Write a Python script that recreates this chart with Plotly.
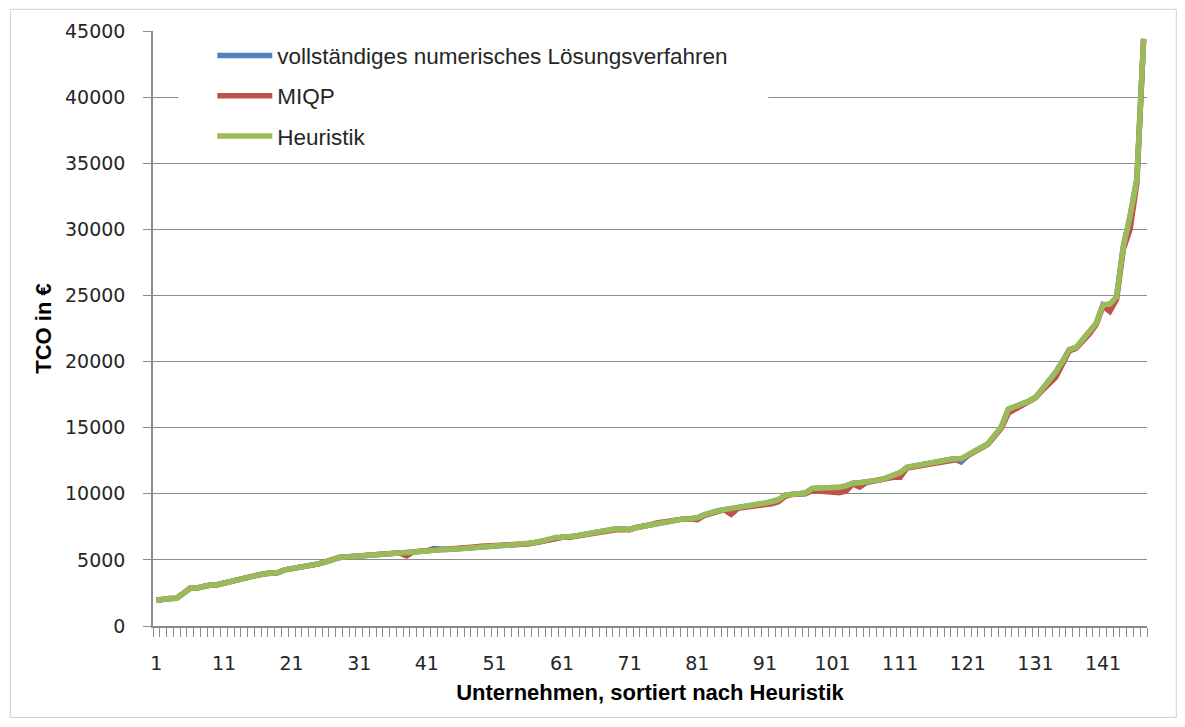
import plotly.graph_objects as go

heuristik = [
    1950, 2050, 2080, 2100, 2500, 2850, 2880, 3000, 3100, 3120,
    3250, 3400, 3550, 3650, 3750, 3850, 3950, 4000, 4050, 4250,
    4330, 4370, 4450, 4580, 4700, 4850, 5000, 5180, 5220, 5250,
    5280, 5320, 5350, 5400, 5420, 5480, 5530, 5560, 5600, 5650,
    5680, 5720, 5780, 5790, 5820, 5850, 5900, 5980, 6030, 6050,
    6070, 6090, 6100, 6130, 6160, 6220, 6320, 6420, 6550, 6700,
    6710, 6720, 6800, 6900, 6980, 7080, 7200, 7270, 7350, 7330,
    7300, 7450, 7550, 7680, 7800, 7880, 7970, 8050, 8100, 8120,
    8180, 8400, 8580, 8700, 8800, 8870, 8950, 9030, 9100, 9200,
    9290, 9400, 9550, 9900, 9980, 10000, 10060, 10400, 10420, 10380,
    10420, 10500, 10600, 10800, 10830, 10880, 10950, 11050, 11200, 11350,
    11600, 12000, 12100, 12200, 12300, 12350, 12500, 12600, 12650, 12650,
    12900, 13200, 13500, 13800, 14400, 15100, 16400, 16650, 16800, 17000,
    17300, 17900, 18500, 19200, 20000, 20900, 21050, 21700, 22300, 22900,
    24300, 24350, 24900, 28700, 31000, 33800, 44400,
]

miqp = [
    1950, 2050, 2080, 2100, 2500, 2850, 2880, 3000, 3100, 3120,
    3250, 3400, 3550, 3650, 3750, 3850, 3950, 4000, 4050, 4250,
    4330, 4370, 4450, 4580, 4700, 4850, 5000, 5180, 5220, 5250,
    5280, 5320, 5350, 5400, 5420, 5480, 5530, 5300, 5600, 5650,
    5680, 5720, 5780, 5790, 5820, 5850, 5900, 5980, 6030, 6050,
    6070, 6090, 6100, 6130, 6160, 6220, 6300, 6400, 6500, 6680,
    6710, 6720, 6800, 6900, 6980, 7080, 7180, 7220, 7280, 7300,
    7280, 7450, 7500, 7650, 7800, 7880, 7970, 8050, 8100, 8100,
    8050, 8350, 8550, 8650, 8780, 8450, 8900, 8950, 9000, 9080,
    9150, 9250, 9400, 9800, 9950, 9980, 10000, 10250, 10200, 10100,
    10080, 10080, 10200, 10750, 10500, 10850, 10950, 11000, 11150, 11250,
    11250, 11950, 12050, 12150, 12250, 12300, 12400, 12450, 12550, 12600,
    12850, 13150, 13450, 13750, 14300, 15000, 16100, 16400, 16750, 16950,
    17250, 17800, 18300, 18800, 19800, 20800, 21000, 21500, 22100, 22800,
    24200, 23800, 24700, 28500, 30000, 33500, 44400,
]

vollstaendig = [
    1950, 2050, 2080, 2100, 2500, 2850, 2880, 3000, 3100, 3120,
    3250, 3400, 3550, 3650, 3750, 3850, 3950, 4000, 4050, 4250,
    4330, 4370, 4450, 4580, 4700, 4850, 5000, 5180, 5220, 5250,
    5280, 5320, 5350, 5400, 5420, 5480, 5530, 5560, 5600, 5650,
    5680, 5850, 5780, 5790, 5820, 5850, 5900, 5980, 6030, 6050,
    6070, 6090, 6100, 6130, 6160, 6220, 6320, 6420, 6550, 6700,
    6710, 6720, 6800, 6900, 6980, 7080, 7200, 7270, 7350, 7330,
    7300, 7450, 7550, 7680, 7800, 7880, 7970, 8050, 8100, 8120,
    8180, 8400, 8580, 8700, 8800, 8870, 8950, 9030, 9100, 9200,
    9290, 9400, 9550, 9900, 9980, 10000, 10060, 10400, 10420, 10380,
    10420, 10500, 10600, 10800, 10830, 10880, 10950, 11050, 11200, 11350,
    11600, 12000, 12100, 12200, 12300, 12350, 12500, 12600, 12650, 12400,
    12900, 13200, 13500, 13800, 14400, 15100, 16400, 16650, 16800, 17000,
    17300, 17900, 18500, 19200, 20000, 20900, 21050, 21700, 22300, 22900,
    24300, 24100, 24900, 28700, 31000, 33800, 44400,
]

unternehmen = list(range(1, len(heuristik) + 1))
x_tick_values = list(range(1, 142, 10))
x_tick_labels = [str(v) for v in x_tick_values]
y_tick_values = list(range(0, 45001, 5000))

series_names = ["vollständiges numerisches Lösungsverfahren", "MIQP", "Heuristik"]
series_colors = ["#4F81BD", "#C0504D", "#9BBB59"]
series_values = [vollstaendig, miqp, heuristik]

fig = go.Figure()
for i, (name, color, vals) in enumerate(zip(series_names, series_colors, series_values)):
    fig.add_trace(go.Scatter(
        x=unternehmen, y=vals, mode="lines", name=name,
        line=dict(color=color, width=5.5), legendgroup=f"g{i}",
    ))

# page offset caused by the default 8px body margin
OFF = 8
W, H = 1185 - 2 * OFF, 727 - 2 * OFF
PL, PR, PT, PB = 152.7, 1146.7, 30.7, 626.5  # plot area in page pixels
L, T = PL - OFF, PT - OFF
R, B = W - (PR - OFF), H - (PB - OFF)
pw, ph = W - L - R, H - T - B

def px(xp):
    return (xp - OFF - L) / pw

def py(yp):
    return (H - B - (yp - OFF)) / ph

txt = "#262626"
grid = "#8C8C8C"
lab_font = "Liberation Sans, Arial, sans-serif"
tick_font = "DejaVu Sans, Verdana, sans-serif"

fig.update_layout(
    width=W, height=H,
    margin=dict(l=L, r=R, t=T, b=B, pad=0),
    paper_bgcolor="white", plot_bgcolor="white",
    showlegend=True,
    legend=dict(
        x=px(212), y=py(34), xanchor="left", yanchor="top",
        bgcolor="white", borderwidth=0,
        font=dict(family=lab_font, size=22.5, color=txt),
        tracegroupgap=8, itemwidth=55,
    ),
    xaxis=dict(
        range=[0.5, len(heuristik) + 0.5],
        tickmode="array", tickvals=x_tick_values, ticktext=x_tick_labels,
        ticks="", showgrid=False, zeroline=False,
        showline=True, linecolor=grid, linewidth=1.5,
        tickfont=dict(family=tick_font, size=19, color=txt),
        ticklabelstandoff=19,
        minor=dict(ticks="outside", tick0=0.5, dtick=1, ticklen=9, tickcolor=grid,
                   tickwidth=1, showgrid=False),
        title=dict(text="<b>Unternehmen, sortiert nach Heuristik</b>",
                   font=dict(family=lab_font, size=22, color="#000000"), standoff=12),
    ),
    yaxis=dict(
        range=[0, 45000], tickmode="array", tickvals=y_tick_values,
        tickformat="d",
        ticks="outside", ticklen=8, tickcolor=grid, tickwidth=1,
        ticklabelstandoff=14,
        showgrid=True, gridcolor=grid, gridwidth=1.3,
        zeroline=False, showline=True, linecolor=grid, linewidth=1.5,
        tickfont=dict(family=tick_font, size=19, color=txt),
        title=dict(text="<b>TCO in €</b>",
                   font=dict(family=lab_font, size=22, color="#000000"), standoff=7),
    ),
    shapes=[
        dict(type="rect", xref="paper", yref="paper",
             x0=px(10), x1=px(1176), y0=py(718), y1=py(9),
             line=dict(color="#D0D0D0", width=1), fillcolor="rgba(0,0,0,0)",
             layer="below"),
        dict(type="rect", xref="paper", yref="paper",
             x0=px(178), x1=px(768), y0=py(160), y1=py(36),
             line=dict(width=0), fillcolor="white", layer="above"),
    ],
)

fig.write_html("out.html")
